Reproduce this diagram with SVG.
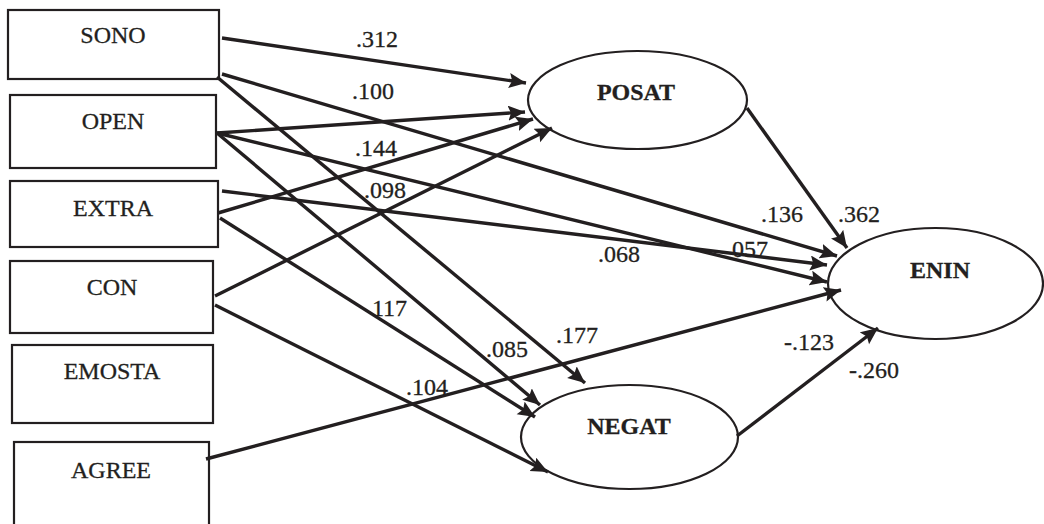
<svg xmlns="http://www.w3.org/2000/svg" width="1044" height="524" viewBox="0 0 1044 524">
<style>
.box{fill:#fff;stroke:#231f20;stroke-width:2.2}
.ell{fill:#fff;stroke:#231f20;stroke-width:2.2}
.t{font-family:"Liberation Serif","Times New Roman",serif;font-size:24px;fill:#231f20;text-anchor:middle;stroke:#231f20;stroke-width:0.3}
.b{font-weight:bold}
.lab{font-family:"Liberation Serif","Times New Roman",serif;font-size:24px;fill:#231f20;stroke:#231f20;stroke-width:0.3}
.c{stroke:#231f20;stroke-width:3.4;fill:none;marker-end:url(#ah)}
</style>
<defs>
<marker id="ah" markerUnits="userSpaceOnUse" markerWidth="18" markerHeight="16" refX="17" refY="7.5" orient="auto">
<path d="M0,0 L17,7.5 L0,15 L3,7.5 z" fill="#231f20"/>
</marker>
</defs>
<g id="SONO"><rect class="box" x="8" y="10" width="211" height="69"/><text class="t" x="113" y="43">SONO</text></g>
<g id="OPEN"><rect class="box" x="10" y="95" width="206" height="73"/><text class="t" x="113" y="129">OPEN</text></g>
<g id="EXTRA"><rect class="box" x="10" y="181" width="208" height="66"/><text class="t" x="113" y="216">EXTRA</text></g>
<g id="CON"><rect class="box" x="10" y="261" width="203" height="72"/><text class="t" x="112" y="295">CON</text></g>
<g id="EMOSTA"><rect class="box" x="12" y="345" width="201" height="78"/><text class="t" x="112" y="379">EMOSTA</text></g>
<g id="AGREE"><rect class="box" x="14" y="442" width="195" height="100"/><text class="t" x="111" y="478">AGREE</text></g>
<g id="POSAT"><ellipse class="ell" cx="637.5" cy="100" rx="109.5" ry="49"/><text class="t b" x="636" y="100">POSAT</text></g>
<g id="NEGAT"><ellipse class="ell" cx="629.5" cy="437" rx="108.5" ry="52"/><text class="t b" x="629" y="434">NEGAT</text></g>
<g id="ENIN"><ellipse class="ell" cx="935.5" cy="283.5" rx="107.5" ry="55.5"/><text class="t b" x="940" y="278">ENIN</text></g>
<g id="connectors">
<line class="c" x1="222" y1="38" x2="526" y2="83"/>
<line class="c" x1="222" y1="74" x2="837" y2="256"/>
<line class="c" x1="217" y1="77" x2="585" y2="383"/>
<line class="c" x1="217" y1="133" x2="525" y2="112"/>
<line class="c" x1="217" y1="133" x2="827" y2="282"/>
<line class="c" x1="217" y1="133" x2="540" y2="405"/>
<line class="c" x1="222" y1="191" x2="827" y2="265"/>
<line class="c" x1="218" y1="213" x2="533" y2="119"/>
<line class="c" x1="220" y1="218" x2="535" y2="417"/>
<line class="c" x1="215" y1="296" x2="552" y2="128"/>
<line class="c" x1="215" y1="305" x2="548" y2="472"/>
<line class="c" x1="206" y1="459" x2="841" y2="290"/>
<line class="c" x1="747" y1="108" x2="847" y2="248"/>
<line class="c" x1="737" y1="436" x2="878" y2="328"/>
</g>
<g id="labels">
<text class="lab" x="356" y="47">.312</text>
<text class="lab" x="352" y="99">.100</text>
<text class="lab" x="355" y="156">.144</text>
<text class="lab" x="364" y="198">.098</text>
<text class="lab" x="598" y="262">.068</text>
<text class="lab" x="372" y="316">117</text>
<text class="lab" x="761" y="222">.136</text>
<text class="lab" x="838" y="222">.362</text>
<text class="lab" x="732" y="257">057</text>
<text class="lab" x="784" y="350">-.123</text>
<text class="lab" x="849" y="378">-.260</text>
<text class="lab" x="486" y="357">.085</text>
<text class="lab" x="556" y="343">.177</text>
<text class="lab" x="406" y="395">.104</text>
</g>
</svg>
